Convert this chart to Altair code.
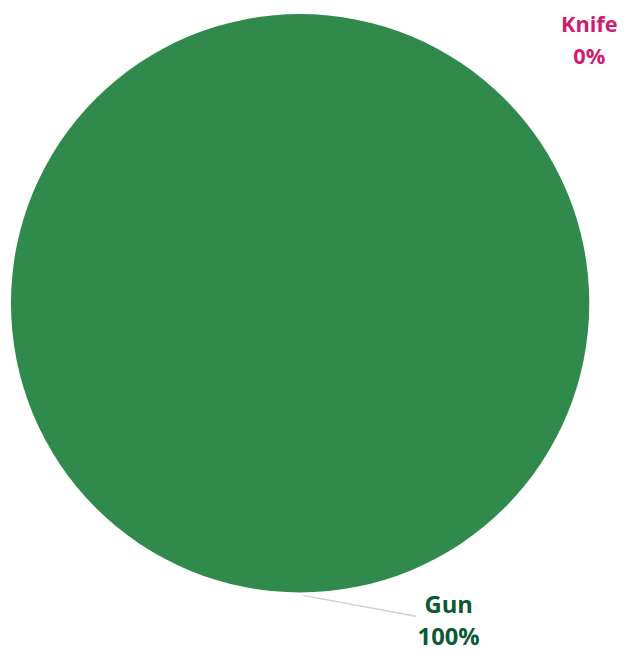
import altair as alt
import pandas as pd

categories = ["Gun", "Knife"]
values = [100, 0]
colors = ["#2f8a4c", "#d01c6e"]
label_colors = ["#0b5a34", "#d01c6e"]
pct_labels = ["100%", "0%"]

df = pd.DataFrame({"category": categories, "value": values})

pie = alt.Chart(df).mark_arc(outerRadius=292, stroke=None).encode(
    theta=alt.Theta("value:Q", stack=True),
    color=alt.Color("category:N", scale=alt.Scale(domain=categories, range=colors), legend=None),
    order=alt.Order("category:N", sort="ascending"),
    x=alt.value(295),
    y=alt.value(295),
)

leader = alt.Chart(pd.DataFrame({"a": [0]})).mark_rule(color="#cfcfcf", strokeWidth=1.5).encode(
    x=alt.value(298), y=alt.value(590), x2=alt.value(412), y2=alt.value(611)
)

def label(cat, pct, col, xc, y1, y2, size):
    d = pd.DataFrame({"t": [cat, pct], "yy": [y1, y2]})
    return alt.Chart(d).mark_text(
        font="Open Sans", fontWeight="bold", fontSize=size, color=col, align="center", baseline="middle"
    ).encode(text="t:N", x=alt.value(xc), y=alt.Y("yy:Q", scale=None))

knife = label(categories[1], pct_labels[1], label_colors[1], 587, 14, 46, 22)
gun = label(categories[0], pct_labels[0], label_colors[0], 445, 601, 633, 24)

chart = alt.layer(pie, leader, knife, gun).properties(
    width=610, height=642, padding=0
).configure_view(stroke=None)

chart.save("out.html", embed_options={"renderer": "svg", "actions": False})
